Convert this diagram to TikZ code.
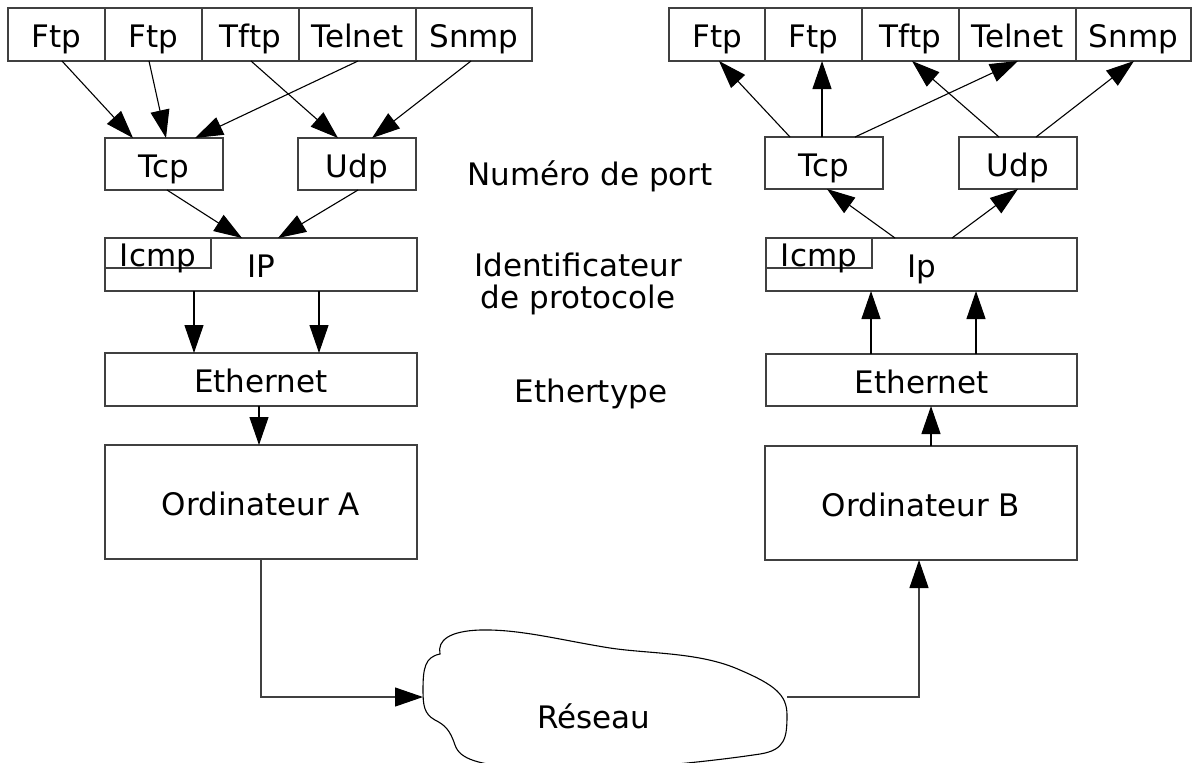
\documentclass[tikz,border=0pt]{standalone}
\usepackage{fontspec}
\setmainfont{DejaVu Sans}
\usetikzlibrary{calc,arrows.meta}
\tikzset{
  box/.style={draw=black!75, line width=0.55pt, inner sep=0pt, outer sep=0pt, text height=13.4pt, text depth=0pt, anchor=center},
  appbox/.style={box, minimum height=26.5pt},
  midbox/.style={box, minimum height=26pt, minimum width=59pt},
  layerbox/.style={box, minimum height=26.5pt, minimum width=156pt},
  icmpbox/.style={box, minimum height=15pt, minimum width=53pt},
  pcbox/.style={box, minimum height=57pt, minimum width=156pt},
  arr/.style={draw=black, line width=0.55pt, -{Triangle[length=14pt,width=9.5pt,black]}},
  lbl/.style={anchor=base, inner sep=0pt},
}
\begin{document}
\begin{tikzpicture}[x=0.5pt,y=-0.5pt, font=\fontsize{15.5pt}{19pt}\selectfont]
\useasboundingbox (0,0) rectangle (1192,762);
% ---------- left stack ----------
\node[appbox, minimum width=48.5pt] (ftpA1) at (56.5,34.5) {Ftp};
\node[appbox, minimum width=48.5pt] (ftpA2) at (153.5,34.5) {Ftp};
\node[appbox, minimum width=48.5pt] (tftpA) at (250.5,34.5) {Tftp};
\node[appbox, minimum width=58.5pt] (telnetA) at (357.5,34.5) {Telnet};
\node[appbox, minimum width=58pt] (snmpA) at (474,34.5) {Snmp};
\node[midbox] (tcpA) at (164,164) {Tcp};
\node[midbox] (udpA) at (357,164) {Udp};
\node[layerbox] (ipA) at (261,264.5) {IP};
\node[icmpbox] (icmpA) at (158,253) {Icmp};
\node[layerbox] (ethA) at (261,379.5) {Ethernet};
\node[pcbox] (ordA) at (261,502) {Ordinateur A};
% ---------- right stack ----------
\node[appbox, minimum width=48pt] (ftpB1) at (717,34.5) {Ftp};
\node[appbox, minimum width=48.5pt] (ftpB2) at (813.5,34.5) {Ftp};
\node[appbox, minimum width=48.5pt] (tftpB) at (910.5,34.5) {Tftp};
\node[appbox, minimum width=58.5pt] (telnetB) at (1017.5,34.5) {Telnet};
\node[appbox, minimum width=57.5pt] (snmpB) at (1133.5,34.5) {Snmp};
\node[midbox] (tcpB) at (824,163) {Tcp};
\node[midbox] (udpB) at (1018,163) {Udp};
\node[layerbox, minimum width=155.5pt] (ipB) at (921.5,264.5) {Ip};
\node[icmpbox] (icmpB) at (819,253) {Icmp};
\node[layerbox, minimum width=155.5pt, minimum height=26pt] (ethB) at (921.5,380) {Ethernet};
\node[pcbox] (ordB) at (921,503) {Ordinateur B};
% ---------- middle labels ----------
\node[lbl] (port) at (590,185) {Numéro de port};
\node[lbl] (ident1) at (578,276) {Identificateur};
\node[lbl] (ident2) at (578,308) {de protocole};
\node[lbl] (ethtype) at (591,402) {Ethertype};
% ---------- cloud ----------
\draw[black, line width=0.55pt]
  (440,654) .. controls (437,640) and (450,631) .. (480,630)
  .. controls (520,629) and (560,640) .. (610,648)
  .. controls (650,654) and (700,652) .. (740,670)
  .. controls (775,685) and (787,695) .. (787,715)
  .. controls (787,738) and (785,750) .. (760,754)
  .. controls (720,760) and (680,764) .. (633,768)
  -- (517,768)
  .. controls (480,764) and (460,760) .. (455,745)
  .. controls (450,730) and (445,725) .. (435,720)
  .. controls (424,714) and (423,705) .. (423,690)
  .. controls (423,668) and (425,657) .. (440,654) -- cycle;
\node[lbl] (reseau) at (594,728) {Réseau};
\coordinate (cloudL) at (423,697);
\coordinate (cloudR) at (787,697);
% ---------- left arrows ----------
\draw[arr] ($(ftpA1.south west)+(54,0)$) -- ($(tcpA.north west)+(28,0)$);
\draw[arr] ($(ftpA2.south west)+(44,0)$) -- ($(tcpA.north west)+(61,0)$);
\draw[arr] ($(telnetA.south west)+(59,0)$) -- ($(tcpA.north west)+(90,0)$);
\draw[arr] ($(tftpA.south west)+(49,0)$) -- ($(udpA.north west)+(40,0)$);
\draw[arr] ($(snmpA.south west)+(55,0)$) -- ($(udpA.north west)+(74,0)$);
\draw[arr] ($(tcpA.south west)+(62,0)$) -- ($(ipA.north west)+(137,0)$);
\draw[arr] ($(udpA.south west)+(60,0)$) -- ($(ipA.north west)+(173,0)$);
\draw[arr] ($(ipA.south west)+(89,0)$) -- ($(ethA.north west)+(89,0)$);
\draw[arr] ($(ipA.south west)+(214,0)$) -- ($(ethA.north west)+(214,0)$);
\draw[arr] ($(ethA.south west)+(154,0)$) -- ($(ordA.north west)+(154,0)$);
% ---------- right arrows ----------
\draw[arr] ($(tcpB.north west)+(25,0)$) -- ($(ftpB1.south west)+(50,0)$);
\draw[arr] ($(tcpB.north west)+(57,0)$) -- ($(ftpB2.south west)+(57,0)$);
\draw[arr] ($(tcpB.north west)+(90,0)$) -- ($(telnetB.south west)+(59,0)$);
\draw[arr] ($(udpB.north west)+(40,0)$) -- ($(tftpB.south west)+(50,0)$);
\draw[arr] ($(udpB.north west)+(77,0)$) -- ($(snmpB.south west)+(58,0)$);
\draw[arr] ($(ipB.north west)+(129,0)$) -- ($(tcpB.south west)+(62,0)$);
\draw[arr] ($(ipB.north west)+(186,0)$) -- ($(udpB.south west)+(59,0)$);
\draw[arr] ($(ethB.north west)+(105,0)$) -- ($(ipB.south west)+(105,0)$);
\draw[arr] ($(ethB.north west)+(210,0)$) -- ($(ipB.south west)+(210,0)$);
\draw[arr] ($(ordB.north west)+(166,0)$) -- ($(ethB.south west)+(165,0)$);
% ---------- network links ----------
\draw[arr, draw=black!75] ($(ordA.south west)+(156,0)$) |- (cloudL);
\draw[arr, draw=black!75] (cloudR) -| ($(ordB.south west)+(154,0)$);
\end{tikzpicture}
\end{document}
